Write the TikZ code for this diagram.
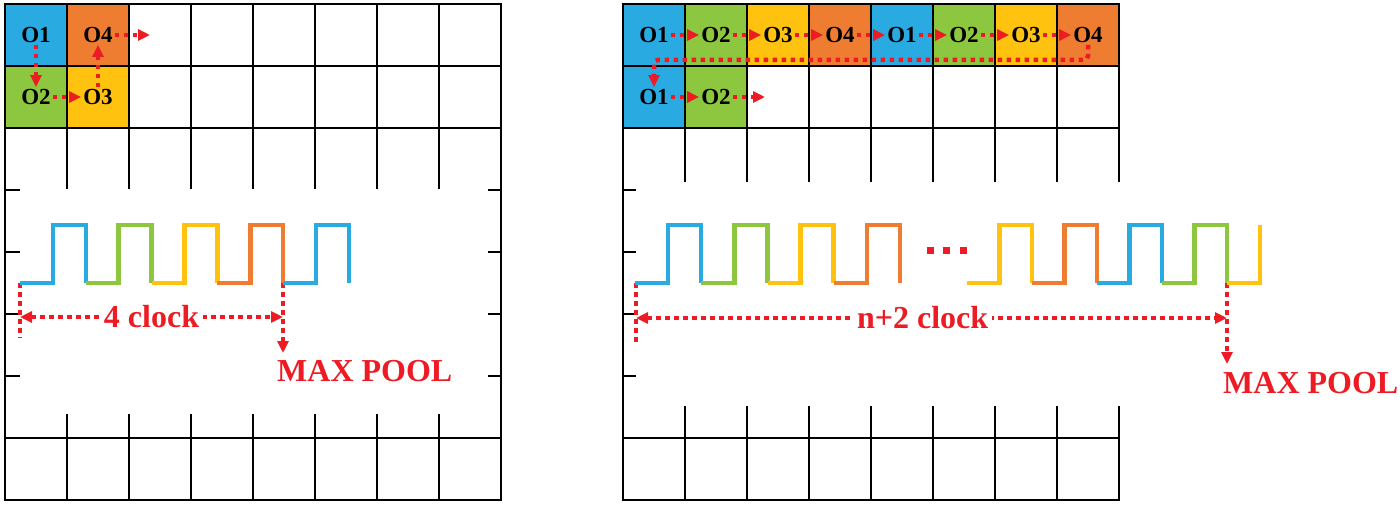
\documentclass[tikz,border=0pt]{standalone}
\usepackage{fontspec}
\setmainfont{Liberation Serif}
\usetikzlibrary{arrows.meta}
\definecolor{cblue}{HTML}{29ABE2}
\definecolor{cgreen}{HTML}{8DC63F}
\definecolor{cyellow}{HTML}{FFC20E}
\definecolor{corange}{HTML}{EE7D31}
\definecolor{cred}{HTML}{ED1C24}

\begin{document}
\begin{tikzpicture}[x=1pt, y=-1pt,
	gridline/.style={line width=2.6pt, black, line cap=rect},
	wave/.style={line width=4.5pt},
	reddots/.style={cred, line width=4.5pt, dash pattern=on 4.5pt off 4.5pt},
	redarrow/.style={reddots, -{Triangle[length=12pt,width=11pt]}},
	dimarrow/.style={reddots, {Triangle[length=12pt,width=11pt]}-{Triangle[length=12pt,width=11pt]}},
	cell/.style={font=\bfseries\fontsize{23}{23}\selectfont, inner sep=2pt},
	redtext/.style={cred, font=\bfseries\fontsize{32}{32}\selectfont, inner sep=0pt}]
\useasboundingbox (0,0) rectangle (1400,507);

%cells
	\fill[cblue] (5,4) rectangle ++(62,62); \fill[corange] (67,4) rectangle ++(62,62);
	\fill[cgreen] (5,66) rectangle ++(62,62); \fill[cyellow] (67,66) rectangle ++(62,62);
	\foreach \c [count=\i from 0] in {cblue,cgreen,cyellow,corange,cblue,cgreen,cyellow,corange}
		\fill[\c] (623+62*\i,4) rectangle ++(62,62);
	\fill[cblue] (623,66) rectangle ++(62,62); \fill[cgreen] (685,66) rectangle ++(62,62);

%left grid
	\draw[gridline] (5,4) rectangle (501,500);
	\foreach \y in {66,128,438} \draw[gridline] (5,\y) -- (501,\y);
	\foreach \y in {190,252,314,376} {\draw[gridline] (5,\y) -- ++(14,0); \draw[gridline] (501,\y) -- ++(-12,0);}
	\foreach \x in {67,129,...,439} {\draw[gridline] (\x,4) -- (\x,188); \draw[gridline] (\x,415) -- (\x,500);}

%right grid
	\draw[gridline] (623,4) -- (623,500);
	\foreach \y in {4,66,128,438,500} \draw[gridline] (623,\y) -- (1119,\y);
	\foreach \y in {190,252,314,376} \draw[gridline] (623,\y) -- ++(12,0);
	\foreach \x in {685,747,...,1119} {\draw[gridline] (\x,4) -- (\x,181); \draw[gridline] (\x,407) -- (\x,500);}

%labels
	\node[cell] (l1) at (36,35) {O1}; \node[cell] (l4) at (98,35) {O4};
	\node[cell] (l2) at (36,97) {O2}; \node[cell] (l3) at (98,97) {O3};
	\coordinate (l5) at (150,35);
	\foreach \t [count=\i] in {1,2,3,4,1,2,3,4} \node[cell] (r\i) at (592+62*\i,35) {O\t};
	\node[cell] (r9) at (654,97) {O1}; \node[cell] (r10) at (716,97) {O2};
	\coordinate (r11) at (765,97);

%order arrows
	\draw[redarrow] (l1) -- (l2); \draw[redarrow] (l2) -- (l3);
	\draw[redarrow] (l3) -- (l4); \draw[redarrow] (l4) -- (l5);
	\foreach \i [count=\j from 2] in {1,...,7} \draw[redarrow] (r\i) -- (r\j);
	\draw[redarrow, rounded corners=4pt] (r8.south) -- ++(0,15) -| (r9.north);
	\draw[redarrow] (r9) -- (r10); \draw[redarrow] (r10) -- (r11);

%clock left
	\coordinate (la) at (20,283); \coordinate (lb) at (20,338); \coordinate (lc) at (283,283);
	\coordinate (ld1) at (20,317); \coordinate (ld2) at (283,317);
	\draw[reddots] (la) -- (lb);
	\node[redtext, anchor=north west] (lmax) at (277,360) {MAX POOL};
	\draw[redarrow, shorten >=7pt] (lc) -- (lc |- lmax.north);
	\draw[dimarrow] (ld1) -- (ld2) node[midway, redtext, fill=white, inner xsep=4pt] {4 clock};
	\foreach \c [count=\i from 0] in {cblue,cgreen,cyellow,corange,cblue}
		\draw[wave,\c] (20+65.8*\i,283) -- ++(32.9,0) -- ++(0,-58) -- ++(32.9,0) -- ++(0,58);

%clock right
	\coordinate (ra) at (636,283); \coordinate (rb) at (636,343); \coordinate (rc) at (1227,283);
	\coordinate (rd1) at (636,318); \coordinate (rd2) at (1227,318);
	\draw[reddots] (ra) -- (rb);
	\node[redtext, anchor=north west] (rmax) at (1223,372) {MAX POOL};
	\draw[redarrow, shorten >=8pt] (rc) -- (rc |- rmax.north);
	\draw[dimarrow] (rd1) -- (rd2) node[pos=0.485, redtext, fill=white, inner xsep=4pt] {n+2 clock};
	\foreach \c [count=\i from 0] in {cblue,cgreen,cyellow,corange}
		\draw[wave,\c] (635+66.25*\i,283) -- ++(33.1,0) -- ++(0,-58) -- ++(33.1,0) -- ++(0,58);
	\foreach \c [count=\i from 0] in {cyellow,corange,cblue,cgreen}
		\draw[wave,\c] (967+65*\i,283) -- ++(32.5,0) -- ++(0,-58) -- ++(32.5,0) -- ++(0,58);
	\draw[wave,cyellow] (1227,283) -- ++(33,0) -- ++(0,-58);
	\foreach \x in {930,946.5,963} \fill[cred] (\x-3.5,247) rectangle ++(7,7);
\end{tikzpicture}
\end{document}
